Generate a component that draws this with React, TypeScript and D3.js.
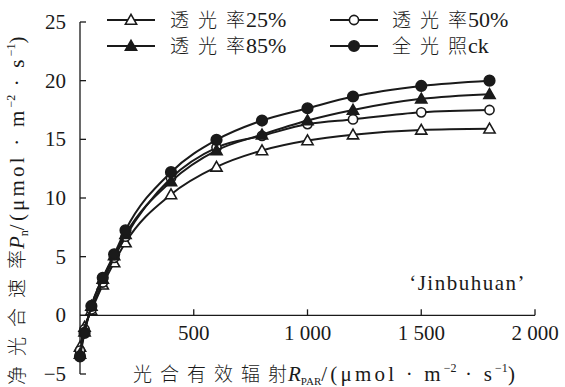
import React from "react";
import * as d3 from "d3";

const par = [0, 20, 50, 100, 150, 200, 400, 600, 800, 1000, 1200, 1500, 1800];
const t25 = [-2.7, -1.0, 0.4, 2.6, 4.5, 6.2, 10.3, 12.65, 14.05, 14.9, 15.4, 15.8, 15.9];
const t50 = [-3.0, -1.2, 0.5, 2.8, 4.9, 6.7, 11.7, 14.3, 15.3, 16.3, 16.7, 17.3, 17.5];
const t85 = [-3.3, -1.4, 0.8, 3.1, 5.1, 6.9, 11.4, 14.05, 15.4, 16.6, 17.5, 18.45, 18.85];
const ck = [-3.5, -1.5, 0.8, 3.2, 5.2, 7.25, 12.2, 14.95, 16.6, 17.65, 18.65, 19.55, 20.0];

const seriesZh = ["透光率", "透光率", "透光率", "全光照"];
const seriesSuffix = ["25%", "50%", "85%", "ck"];
const xTicks = [500, 1000, 1500, 2000];
const xTickLabels = ["500", "1 000", "1 500", "2 000"];
const yTicks = [-5, 0, 5, 10, 15, 20, 25];

const W = 565;
const H = 387;
const FONT = "'Liberation Serif', 'Noto Sans CJK SC', serif";
const ZH = "'Noto Sans CJK SC', sans-serif";
const INK = "#1a1a1a";

type Shape = "triOpen" | "circleOpen" | "triFilled" | "circleFilled";
const shapes: Shape[] = ["triOpen", "circleOpen", "triFilled", "circleFilled"];

function Marker({ x, y, shape }: { x: number; y: number; shape: Shape }) {
  const filled = shape === "triFilled" || shape === "circleFilled";
  const fill = filled ? INK : "#fff";
  if (shape === "triOpen" || shape === "triFilled") {
    const s = 5.6;
    return (
      <path
        d={`M${x},${y - s}L${x + s},${y + s * 0.75}L${x - s},${y + s * 0.75}Z`}
        fill={fill}
        stroke={INK}
        strokeWidth={1.6}
      />
    );
  }
  return <circle cx={x} cy={y} r={filled ? 5.3 : 4.6} fill={fill} stroke={INK} strokeWidth={1.6} />;
}

// chinese run with spacing between characters only (no trailing gap)
function Zh({ text, size, gap }: { text: string; size: number; gap: number }) {
  return (
    <>
      <tspan fontFamily={ZH} fontWeight={300} fontSize={size} letterSpacing={gap}>
        {text.slice(0, -1)}
      </tspan>
      <tspan fontFamily={ZH} fontWeight={300} fontSize={size}>
        {text.slice(-1)}
      </tspan>
    </>
  );
}

// unit part: /(μmol · m-2 · s-1)
function Unit({ sp }: { sp: number }) {
  return (
    <>
      <tspan dy={-4} letterSpacing={sp}>/(μmol · m</tspan>
      <tspan fontSize={12} dy={-9}>−2</tspan>
      <tspan dy={9} letterSpacing={sp}> · s</tspan>
      <tspan fontSize={12} dy={-9}>−1</tspan>
      <tspan dy={9}>)</tspan>
    </>
  );
}

export default function App() {
  const x = d3.scaleLinear().domain([0, 2000]).range([80, 535]);
  const y = d3.scaleLinear().domain([-5, 25]).range([374, 22]);
  const data = [t25, t50, t85, ck];

  const line = d3
    .line<number>()
    .x((_, i) => x(par[i]))
    .y((d) => y(d))
    .curve(d3.curveMonotoneX);

  const legend = [
    { lx: 107, ly: 20, tx: 170 },
    { lx: 330, ly: 20, tx: 392 },
    { lx: 107, ly: 46, tx: 170 },
    { lx: 330, ly: 46, tx: 392 },
  ];

  return (
    <svg width={W} height={H} style={{ position: "absolute", left: 0, top: 0 }} fontFamily={FONT}>
      <rect width={W} height={H} fill="#fff" />
      {/* axes */}
      <line x1={x(0)} x2={x(0)} y1={y(25)} y2={y(-5)} stroke={INK} strokeWidth={1.3} />
      <line x1={x(0)} x2={x(2000)} y1={y(0)} y2={y(0)} stroke={INK} strokeWidth={1.3} />
      {yTicks.map((t) => (
        <g key={t}>
          <line x1={x(0)} x2={x(0) + 6} y1={y(t)} y2={y(t)} stroke={INK} strokeWidth={1.3} />
          <text x={66} y={y(t) + 7} textAnchor="end" fontSize={21} fill={INK}>
            {t < 0 ? "\u2212" + Math.abs(t) : t}
          </text>
        </g>
      ))}
      {xTicks.map((t, i) => (
        <g key={t}>
          <line x1={x(t)} x2={x(t)} y1={y(0)} y2={y(0) - 6} stroke={INK} strokeWidth={1.3} />
          <text x={x(t)} y={y(0) + 25} textAnchor="middle" fontSize={21} fill={INK}>
            {xTickLabels[i]}
          </text>
        </g>
      ))}

      {/* series */}
      {data.map((d, si) => (
        <g key={si}>
          <path d={line(d) || ""} fill="none" stroke={INK} strokeWidth={2} />
          {d.map((v, i) => (
            <Marker key={i} x={x(par[i])} y={y(v)} shape={shapes[si]} />
          ))}
        </g>
      ))}

      {/* legend */}
      {legend.map((l, i) => (
        <g key={i}>
          <line x1={l.lx} x2={l.lx + 48} y1={l.ly} y2={l.ly} stroke={INK} strokeWidth={2} />
          <Marker x={l.lx + 24} y={l.ly} shape={shapes[i]} />
          <text x={l.tx} y={l.ly + 7} fontSize={22} fill={INK}>
            <Zh text={seriesZh[i]} size={19} gap={9} />
            <tspan dx={1}>{seriesSuffix[i]}</tspan>
          </text>
        </g>
      ))}

      <text x={526} y={290} textAnchor="end" fontSize={21} letterSpacing={1.5} fill={INK}>
        {"\u2018Jinbuhuan\u2019"}
      </text>

      {/* x title */}
      <text x={133} y={381} fontSize={21} fill={INK}>
        <Zh text="光合有效辐射" size={19} gap={8} />
        <tspan dx={1} fontStyle="italic">R</tspan>
        <tspan fontSize={11} dy={4}>PAR</tspan>
        <Unit sp={3.2} />
      </text>

      {/* y title */}
      <text transform="translate(24,385) rotate(-90)" fontSize={21} fill={INK}>
        <Zh text="净光合速率" size={19} gap={10} />
        <tspan dx={1} fontStyle="italic">P</tspan>
        <tspan fontSize={12} dy={4}>n</tspan>
        <Unit sp={3.2} />
      </text>
    </svg>
  );
}
